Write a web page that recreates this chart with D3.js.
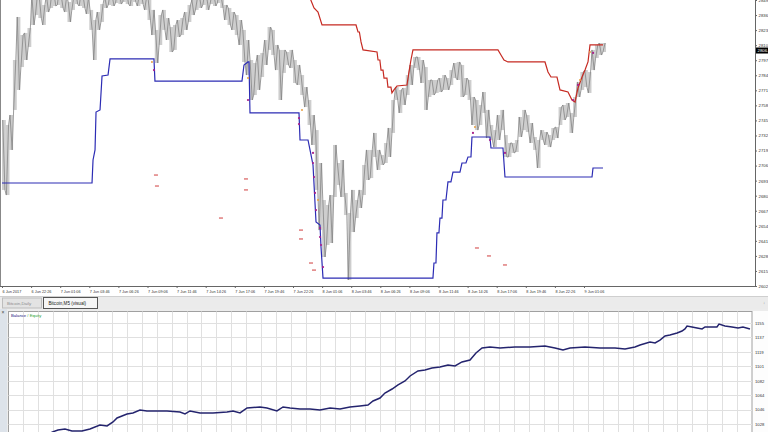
<!DOCTYPE html>
<html><head><meta charset="utf-8">
<script src="https://cdn.jsdelivr.net/npm/d3@7"></script>
<style>
html,body{margin:0;padding:0;background:#fff;overflow:hidden;}
text{font-family:"Liberation Sans","DejaVu Sans",sans-serif;}
</style></head><body>
<svg id="c" width="768" height="432"></svg>
<script>
// ---------- DATA ----------
const timeTickBars = [0,32,64,96,128,160,192,224,256,288,320,352,384,416,448,480,512,544,576,608,640];
const timeTickLabels = ["6 Jun 2017","6 Jun 22:26","7 Jun 01:06","7 Jun 03:46","7 Jun 06:26","7 Jun 09:06","7 Jun 11:46","7 Jun 14:26","7 Jun 17:06","7 Jun 19:46","7 Jun 22:26","8 Jun 01:06","8 Jun 03:46","8 Jun 06:26","8 Jun 09:06","8 Jun 11:46","8 Jun 14:26","8 Jun 17:06","8 Jun 19:46","8 Jun 22:26","9 Jun 01:06"];
const priceTicks = [2849.50,2836.48,2823.46,2810.44,2797.42,2784.40,2771.38,2758.36,2745.34,2732.32,2719.30,2706.28,2693.26,2680.24,2667.22,2654.20,2641.18,2628.16,2615.14,2602.12];
const lastPrice = 2806.5;
const barsPerBin = 4; // each entry = high/low of 4 M5 bars (20 min)
const priceHigh = [2745.7,2741.4,2750.0,2797.6,2834.8,2819.2,2821.0,2825.3,2853.8,2856.4,2853.8,2845.2,2853.8,2858.2,2856.4,2859.9,2854.7,2853.0,2847.8,2853.8,2858.2,2856.4,2854.7,2852.1,2840.9,2832.2,2839.1,2846.0,2853.0,2856.4,2854.7,2858.2,2856.4,2859.9,2858.2,2856.4,2859.9,2854.7,2856.4,2853.0,2849.5,2840.9,2823.6,2836.5,2840.9,2833.9,2826.1,2827.9,2832.2,2833.9,2839.1,2845.2,2849.5,2853.0,2854.7,2856.4,2853.8,2856.4,2854.7,2858.2,2853.0,2845.2,2842.6,2839.1,2836.5,2832.2,2823.6,2814.9,2797.6,2795.0,2801.9,2803.7,2814.9,2826.1,2823.6,2810.6,2806.3,2806.3,2804.5,2806.3,2797.6,2793.3,2784.6,2774.2,2763.0,2750.0,2737.0,2708.5,2676.5,2672.2,2680.8,2724.1,2708.5,2711.1,2682.6,2665.3,2685.2,2676.5,2685.2,2706.8,2719.8,2719.8,2734.5,2719.8,2715.4,2725.8,2738.8,2763.0,2774.2,2771.7,2773.4,2784.6,2793.3,2800.2,2800.2,2797.6,2791.5,2780.3,2780.3,2780.3,2782.0,2784.6,2782.0,2788.9,2795.0,2795.9,2793.3,2782.0,2780.3,2765.6,2763.0,2758.7,2769.9,2754.4,2741.4,2737.0,2750.0,2754.4,2732.7,2725.8,2725.8,2728.4,2748.3,2754.4,2750.0,2743.1,2731.0,2728.4,2737.0,2735.3,2732.7,2738.8,2739.6,2756.9,2758.7,2760.4,2751.8,2765.6,2778.6,2787.2,2788.9,2787.2,2806.3,2810.6,2812.3,2812.3];
const priceLow = [2685.2,2680.8,2719.8,2754.4,2771.7,2791.5,2797.6,2808.8,2827.9,2836.5,2833.9,2827.9,2839.1,2842.6,2844.3,2845.2,2842.6,2839.1,2830.5,2840.9,2846.0,2844.3,2842.6,2837.4,2823.6,2797.6,2823.6,2830.5,2842.6,2845.2,2844.3,2846.9,2846.0,2847.8,2846.0,2844.3,2847.8,2844.3,2846.0,2840.9,2832.2,2819.2,2795.0,2810.6,2823.6,2814.9,2804.5,2806.3,2817.5,2819.2,2823.6,2830.5,2836.5,2840.9,2842.6,2845.2,2840.9,2846.0,2844.3,2846.9,2842.6,2832.2,2827.9,2823.6,2819.2,2810.6,2795.9,2784.6,2763.0,2767.3,2771.7,2782.9,2793.3,2806.3,2801.9,2788.9,2763.0,2786.4,2793.3,2790.7,2777.7,2776.0,2767.3,2756.9,2741.4,2724.1,2685.2,2650.5,2627.2,2637.6,2639.3,2679.1,2689.5,2679.1,2663.5,2607.3,2648.8,2660.9,2669.6,2680.8,2693.8,2695.5,2713.7,2702.5,2706.8,2708.5,2713.7,2734.5,2763.0,2751.8,2758.7,2767.3,2776.0,2790.7,2788.9,2777.7,2754.4,2765.6,2767.3,2769.1,2769.9,2771.7,2771.7,2776.0,2782.0,2780.3,2765.6,2767.3,2763.0,2741.4,2737.0,2741.4,2751.8,2730.1,2728.4,2722.3,2728.4,2737.0,2713.7,2713.7,2717.2,2718.0,2731.0,2737.0,2735.3,2725.8,2719.8,2704.2,2728.4,2724.1,2722.3,2728.4,2730.1,2741.4,2745.7,2748.3,2734.5,2748.3,2765.6,2771.7,2774.2,2769.1,2788.9,2799.3,2801.9,2804.5];
// upper channel (red) [bar, price]
const upperBand = [[300,2872],[336,2856],[338.7,2851.2],[343.1,2842.6],[347.5,2839.1],[351.9,2827.9],[389.3,2827.9],[391.5,2821.8],[393.0,2821.8],[394.8,2813.2],[397.0,2806.3],[412.4,2804.5],[413.5,2797.6],[415.5,2797.6],[416.8,2788.9],[419.0,2788.9],[420.1,2782.0],[423.3,2782.0],[424.4,2774.2],[427.7,2774.2],[428.8,2769.1],[431.0,2771.7],[434.3,2775.1],[445.3,2776.0],[447.5,2787.2],[449.7,2797.6],[451.9,2806.3],[545.4,2806.3],[548.7,2801.9],[552.0,2797.6],[556.4,2795.9],[597.1,2795.9],[600.4,2787.2],[603.7,2782.9],[610.3,2782.9],[613.6,2771.7],[622.4,2769.9],[626.8,2763.0],[630.1,2761.3],[633.4,2773.4],[637.8,2782.9],[641.1,2788.9],[644.4,2795.9],[646.6,2810.6],[660.9,2810.6]];
// lower channel (blue) [bar, price]
const lowerBand = [[0,2691.2],[99.0,2691.2],[100.1,2711.1],[102.3,2719.8],[103.4,2752.6],[107.8,2754.4],[110.0,2783.8],[116.6,2784.6],[118.8,2798.5],[167.1,2798.5],[168.2,2779.4],[263.9,2779.4],[266.1,2793.3],[270.5,2795.9],[271.6,2795.9],[272.7,2751.8],[326.6,2751.8],[327.7,2728.4],[336.5,2728.4],[338.7,2719.8],[342.0,2706.8],[345.3,2657.5],[349.7,2654.9],[350.8,2635.8],[353.0,2609.0],[473.9,2609.0],[475.0,2622.0],[477.2,2622.0],[478.3,2648.0],[480.5,2648.0],[481.6,2660.9],[483.8,2660.9],[484.9,2676.5],[488.2,2676.5],[490.4,2692.1],[493.7,2692.1],[495.9,2700.7],[503.6,2700.7],[505.8,2708.5],[510.2,2708.5],[512.4,2713.7],[515.7,2713.7],[516.8,2731.0],[536.6,2731.0],[537.7,2721.5],[550.9,2721.5],[553.1,2696.4],[648.8,2696.4],[649.9,2704.2],[660.9,2704.2]];
// pending order levels [bar, price]
const orderLevels = [[169.3,2698.1],[170.4,2688.6],[268.3,2694.7],[268.3,2685.2],[240.8,2660.9],[328.8,2650.5],[328.8,2642.8],[339.8,2622.0],[343.1,2615.9],[522.3,2635.0],[535.5,2628.1],[553.1,2620.3]];
// trade arrows [bar, price]
const sellMarks = [[167.1,2788.9],[270.5,2763.0],[326.6,2747.4],[326.6,2742.2],[342.0,2717.2],[342.0,2708.5],[343.1,2696.4],[344.2,2682.6],[345.3,2667.8],[349.7,2652.3],[349.7,2644.5],[350.8,2637.6],[353.0,2618.5],[517.9,2734.5],[536.6,2728.4],[553.1,2717.2],[627.9,2763.0],[633.4,2776.0],[650.0,2803.7]];
const closeMarks = [[164.9,2795.9],[270.5,2782.0],[329.9,2754.4],[347.5,2676.5],[520.1,2739.6],[635.6,2780.3],[646.6,2804.5]];
// tester graph
const balanceTicks = [1155.0,1136.9,1118.7,1100.6,1082.4,1064.3,1046.1,1028.0];
const balance = [[0,1000],[15,1005],[30,1018],[33.6,1020.5],[38.3,1021.8],[43,1019.2],[49.7,1019.2],[55.1,1021.8],[61.8,1026.8],[66.6,1025.5],[70.6,1030.6],[73.3,1035.6],[80,1040.6],[84,1041.9],[88.7,1045.6],[93.4,1044.4],[106.9,1044.4],[115.6,1043.1],[119,1040.6],[122.4,1044.4],[129.1,1041.9],[137.8,1041.9],[147.2,1043.1],[151.3,1044.4],[156,1041.9],[160.7,1048.2],[169.4,1049.4],[174.1,1048.2],[180.8,1044.4],[184.9,1049.4],[189.6,1048.2],[196.3,1046.9],[203,1046.9],[209.7,1045.6],[216.5,1048.2],[223.2,1046.9],[229.9,1049.4],[236.6,1050.7],[242,1051.9],[245.4,1057.0],[250.1,1060.7],[253.4,1067.0],[258.2,1072.0],[262.2,1077.1],[266.9,1082.1],[270.3,1088.4],[275.6,1094.7],[280.3,1095.9],[285,1098.4],[290.4,1099.7],[295.8,1102.2],[300.5,1101.0],[305.2,1106.0],[310.6,1108.5],[314.6,1117.3],[318.7,1123.6],[324,1124.8],[330.8,1123.6],[340.8,1124.8],[350.9,1124.8],[361,1126.1],[367.7,1123.6],[373.1,1121.1],[377.8,1123.6],[387.9,1124.8],[398,1123.6],[408.1,1123.6],[414.8,1122.3],[421.5,1124.8],[424.9,1127.3],[431.6,1131.1],[435,1129.9],[438.3,1133.6],[441.7,1138.7],[445,1139.9],[449.8,1142.4],[453.1,1144.9],[455.1,1147.5],[456.5,1151.2],[459.8,1150.0],[463.2,1148.7],[466.6,1147.5],[468.6,1150.0],[473.3,1150.0],[476.6,1150.0],[478,1153.7],[482,1151.2],[486.7,1150.0],[490.8,1148.7],[494.1,1150.0],[498.8,1147.5]];
const tabNames = ["Bitcoin,Daily","Bitcoin,M5 (visual)"];

// ---------- DRAW ----------
const svg = d3.select("#c");
svg.append("rect").attr("width",768).attr("height",432).attr("fill","#fff");
const defs = svg.append("defs");
defs.append("clipPath").attr("id","cp1").append("rect").attr("x",0).attr("y",0).attr("width",755).attr("height",286);
defs.append("clipPath").attr("id","cp2").append("rect").attr("x",8.5).attr("y",311.5).attr("width",743.5).attr("height",121);

const x = d3.scaleLinear().domain([0,640]).range([2,584]);
const y = d3.scaleLinear().domain([2602.12,2849.5]).range([286,0]);

const g = svg.append("g").attr("clip-path","url(#cp1)");
// price bars: light range band per bin + dark hairline joining each bin's high and low
g.selectAll("rect.bin").data(priceHigh).join("rect")
  .attr("x",(d,i)=>x(i*barsPerBin))
  .attr("width",x(barsPerBin)-x(0)+0.2)
  .attr("y",d=>y(d))
  .attr("height",(d,i)=>Math.max(1,y(priceLow[i])-y(d)))
  .attr("fill","#cdcdcd");
const zig = [];
priceHigh.forEach((h,i)=>{
  const l = priceLow[i];
  if(i%2===0){zig.push([i*barsPerBin+0.8,h],[i*barsPerBin+3.2,l]);}
  else {zig.push([i*barsPerBin+0.8,l],[i*barsPerBin+3.2,h]);}
});
g.append("path").datum(zig).attr("d",d3.line().x(d=>x(d[0])).y(d=>y(d[1])))
  .attr("fill","none").attr("stroke","#858585").attr("stroke-width",0.8).attr("stroke-linejoin","miter");

const line = d3.line().x(d=>x(d[0])).y(d=>y(d[1]));
g.append("path").datum(upperBand).attr("d",line).attr("fill","none").attr("stroke","#c62a22").attr("stroke-width",1.2);
g.append("path").datum(lowerBand).attr("d",line).attr("fill","none").attr("stroke","#2c2cb4").attr("stroke-width",1.2);

g.selectAll("line.ord").data(orderLevels).join("line")
  .attr("x1",d=>x(d[0])-2).attr("x2",d=>x(d[0])+2)
  .attr("y1",d=>y(d[1])).attr("y2",d=>y(d[1]))
  .attr("stroke","#d03c3c").attr("stroke-width",1);
g.selectAll("circle.sm").data(sellMarks).join("circle")
  .attr("cx",d=>x(d[0])).attr("cy",d=>y(d[1])).attr("r",1.1).attr("fill","#a8208a");
g.selectAll("circle.cm").data(closeMarks).join("circle")
  .attr("cx",d=>x(d[0])).attr("cy",d=>y(d[1])).attr("r",1.0).attr("fill","#e8a040");

// left window edge
svg.append("line").attr("x1",0.5).attr("x2",0.5).attr("y1",0).attr("y2",286).attr("stroke","#888");

// price axis
const ya = svg.append("g").attr("transform","translate(755,0)")
  .call(d3.axisRight(y).tickValues(priceTicks).tickSize(2).tickPadding(1.5).tickFormat(d3.format(".2f")));
ya.select(".domain").attr("stroke","#666").attr("d","M0.5,0V286.5");
ya.selectAll(".tick line").attr("stroke","#666");
ya.selectAll("text").attr("font-size",4.3).attr("fill","#333").attr("font-family","Liberation Sans, sans-serif");
const lp = y(lastPrice);
ya.selectAll(".tick").filter(d=>Math.abs(y(d)-lp)<3.5).select("text").attr("dy","-0.25em");
svg.append("rect").attr("x",756).attr("y",lp-2.2).attr("width",14).attr("height",6).attr("fill","#000");
svg.append("text").attr("x",757.5).attr("y",lp+0.8).attr("dy","0.35em").attr("font-size",4.3).attr("fill","#fff").text(d3.format(".2f")(lastPrice));

// time axis
const xa = svg.append("g").attr("transform","translate(0,286)")
  .call(d3.axisBottom(x).tickValues(timeTickBars).tickSize(2).tickPadding(2).tickFormat((d,i)=>timeTickLabels[i]));
xa.select(".domain").attr("stroke","#666").attr("d","M0,0.5H755.5");
xa.selectAll(".tick line").attr("stroke","#666");
xa.selectAll("text").attr("font-size",3.8).attr("fill","#333").attr("text-anchor","start").attr("font-family","Liberation Sans, sans-serif");

// tab bar
svg.append("rect").attr("x",0).attr("y",296.5).attr("width",768).attr("height",12.5).attr("fill","#ebebeb");
svg.append("line").attr("x1",0).attr("x2",768).attr("y1",296.5).attr("y2",296.5).attr("stroke","#cfcfcf");
svg.append("rect").attr("x",2.5).attr("y",298).attr("width",39).attr("height",10).attr("fill","#e3e3e3").attr("stroke","#bdbdbd");
svg.append("text").attr("x",7).attr("y",304.6).attr("font-size",4.4).attr("fill","#8c8c8c").text(tabNames[0]);
svg.append("rect").attr("x",43.5).attr("y",297.5).attr("width",54).attr("height",11).attr("fill","#f6f6f6").attr("stroke","#555");
svg.append("text").attr("x",48.5).attr("y",304.6).attr("font-size",4.6).attr("fill","#1a1a1a").text(tabNames[1]);

// tester panel
svg.append("rect").attr("x",0).attr("y",309).attr("width",768).attr("height",123).attr("fill","#ececec");
svg.append("rect").attr("x",0).attr("y",309).attr("width",7).attr("height",123).attr("fill","#dde3ea");
svg.append("text").attr("x",1.5).attr("y",313.5).attr("font-size",5).attr("fill","#444").text("×");
svg.append("rect").attr("x",752).attr("y",311).attr("width",16).attr("height",121).attr("fill","#fdfdfd");
svg.append("rect").attr("x",8.5).attr("y",311.5).attr("width",743.5).attr("height",125).attr("fill","#fff").attr("stroke","#a0a0a0");

const bx = d3.scaleLinear().domain([0,500]).range([8,751.75]);
const by = d3.scaleLinear().domain([1028.0,1155.0]).range([424.0,323.0]);
const gb = svg.append("g").attr("clip-path","url(#cp2)");
gb.selectAll("line.vg").data(d3.range(10,500,10)).join("line")
  .attr("x1",d=>Math.round(bx(d))+0.5).attr("x2",d=>Math.round(bx(d))+0.5).attr("y1",311).attr("y2",432)
  .attr("stroke","#e0e0e0");
gb.selectAll("line.hg").data(balanceTicks).join("line")
  .attr("x1",8).attr("x2",752).attr("y1",d=>Math.round(by(d))+0.5).attr("y2",d=>Math.round(by(d))+0.5)
  .attr("stroke","#e0e0e0");
gb.append("path").datum(balance).attr("d",d3.line().x(d=>bx(d[0])).y(d=>by(d[1])))
  .attr("fill","none").attr("stroke","#24246e").attr("stroke-width",1.5);

const lbl = svg.append("text").attr("x",11).attr("y",316.5).attr("font-size",4.2);
lbl.append("tspan").attr("fill","#1c1c80").text("Balance");
lbl.append("tspan").attr("fill","#2ca02c").text(" / Equity");

const ba = svg.append("g").attr("transform","translate(752,0)")
  .call(d3.axisRight(by).tickValues(balanceTicks).tickSize(0).tickPadding(3).tickFormat(d3.format(".0f")));
ba.select(".domain").remove();
ba.selectAll("text").attr("font-size",4.2).attr("fill","#333").attr("font-family","Liberation Sans, sans-serif");
svg.append("text").attr("x",763).attr("y",304).attr("font-size",4).attr("fill","#666").text("↓");
</script>
</body></html>
